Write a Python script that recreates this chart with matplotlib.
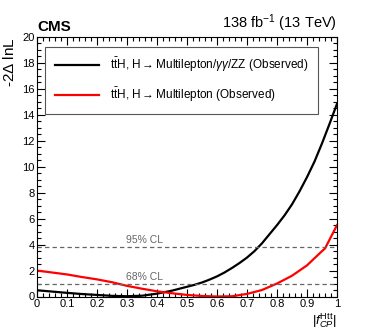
import numpy as np
import matplotlib
matplotlib.use("Agg")
import matplotlib.pyplot as plt
from matplotlib.ticker import MultipleLocator

plt.rcParams['font.family'] = ['Liberation Sans', 'DejaVu Sans']
plt.rcParams['mathtext.fontset'] = 'custom'
plt.rcParams['mathtext.rm'] = 'Liberation Sans'
plt.rcParams['mathtext.it'] = 'Liberation Sans:italic'

# combined ttH, H -> multilepton / gamma gamma / ZZ
fcp_comb = [0, 0.05, 0.1, 0.15, 0.2, 0.25, 0.3, 0.35, 0.4, 0.45, 0.5, 0.525,
            0.55, 0.575, 0.6, 0.625, 0.65, 0.675, 0.7, 0.725, 0.75, 0.775, 0.8,
            0.825, 0.85, 0.875, 0.9, 0.925, 0.95, 0.975, 1.0]
nll_comb = [0.48, 0.38, 0.28, 0.19, 0.12, 0.05, 0.02, 0.06, 0.22, 0.45, 0.75, 0.9,
            1.08, 1.3, 1.55, 1.85, 2.2, 2.58, 3.0, 3.5, 4.1, 4.8, 5.5,
            6.25, 7.1, 8.1, 9.2, 10.4, 11.8, 13.3, 14.85]

# ttH, H -> multilepton only
fcp_ml = [0, 0.05, 0.1, 0.15, 0.2, 0.25, 0.3, 0.35, 0.4, 0.45, 0.5,
          0.55, 0.6, 0.65, 0.7, 0.75, 0.8, 0.85, 0.9, 0.95, 0.96, 1.0]
nll_ml = [2.0, 1.85, 1.7, 1.5, 1.32, 1.1, 0.82, 0.6, 0.4, 0.25, 0.12,
          0.04, 0.0, 0.02, 0.2, 0.5, 1.0, 1.6, 2.4, 3.5, 3.7, 5.5]

cl_levels = [1.0, 3.84]
cl_labels = ['68% CL', '95% CL']

fig = plt.figure(figsize=(3.74, 3.30), dpi=100)
ax = fig.add_axes([37/374, 1 - 296.5/330, 300/374, 259.5/330])

ax.plot(fcp_comb, nll_comb, color='black', lw=1.6,
        label=r'$\mathrm{t\bar{t}}$H, H$\rightarrow$Multilepton/$\gamma\gamma$/ZZ (Observed)')
ax.plot(fcp_ml, nll_ml, color='red', lw=1.6,
        label=r'$\mathrm{t\bar{t}}$H, H$\rightarrow$Multilepton (Observed)')

for lev, lab in zip(cl_levels, cl_labels):
    ax.axhline(lev, color='#666666', ls=(0, (3.5, 2.5)), lw=0.9)
    ax.text(0.36, lev + 0.15, lab, color='#666666', fontsize=7.5,
            ha='center', va='bottom')

ax.set_xlim(0, 1)
ax.set_ylim(0, 20)
ax.xaxis.set_minor_locator(MultipleLocator(0.02))
ax.yaxis.set_major_locator(MultipleLocator(2))
ax.yaxis.set_minor_locator(MultipleLocator(0.5))
ax.set_xticks(np.arange(0, 1.01, 0.1))
ax.set_xticklabels(['0', '0.1', '0.2', '0.3', '0.4', '0.5', '0.6', '0.7', '0.8', '0.9', '1'])
ax.tick_params(which='both', direction='in', top=True, right=True, labelsize=8, pad=1.5)
ax.tick_params(which='major', length=6, width=0.8)
ax.tick_params(which='minor', length=3, width=0.8)
for s in ax.spines.values():
    s.set_linewidth(0.8)

ax.set_ylabel(r'-2$\Delta$ lnL', fontsize=11, loc='top', labelpad=4)
fig.text(337/374, 0, r'$|f^{\rm Htt}_{CP}|$', fontsize=9.5, ha='right', va='bottom')

ax.text(0.0, 1.01, 'CMS', transform=ax.transAxes, fontsize=11, fontweight='bold',
        ha='left', va='bottom')
ax.text(1.0, 1.01, r'138 fb$^{-1}$ (13 TeV)', transform=ax.transAxes, fontsize=10.5,
        ha='right', va='bottom')

leg = ax.legend(loc='upper left', bbox_to_anchor=(0.027, 0.963), fontsize=8.5,
                frameon=True, fancybox=False, edgecolor='#555555', framealpha=1,
                handlelength=3.8, handletextpad=0.9, labelspacing=1.0,
                borderpad=0.8, borderaxespad=0)
leg.get_frame().set_linewidth(0.8)

fig.savefig('out.png', dpi=100)
